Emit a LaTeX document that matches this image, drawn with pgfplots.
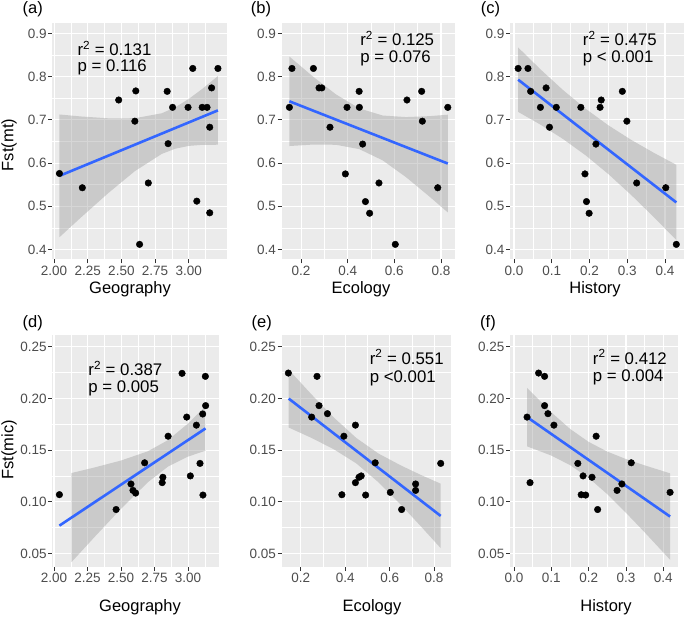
\documentclass[border=0pt]{standalone}
\usepackage{fontspec}
\setmainfont{Liberation Sans}
\usepackage{pgfplots}
\pgfplotsset{compat=1.18}

\definecolor{panelbg}{HTML}{EBEBEB}
\definecolor{ggblue}{HTML}{3366FF}
\definecolor{gray60}{HTML}{999999}
\definecolor{gray30}{HTML}{4D4D4D}
\definecolor{gray20}{HTML}{333333}

\tikzset{ann/.style={anchor=west, font=\fontsize{16.8}{19}\selectfont, inner sep=0pt}}

\pgfplotsset{
  gg/.style={
    scale only axis, anchor=south west,
    axis background/.style={fill=panelbg},
    axis line style={draw=none},
    grid=both,
    major grid style={draw=white, line width=1.1pt},
    minor grid style={draw=white, line width=0.55pt},
    major tick length=4pt, minor tick length=0pt,
    tick align=outside, xtick pos=left, ytick pos=left,
    major tick style={draw=gray20, line width=0.9pt},
    tick label style={font=\fontsize{13.5}{15}\selectfont, text=gray30},
    xticklabel style={inner sep=2pt},
    yticklabel style={inner sep=1.5pt},
  },
  toprow/.style={gg, width=174.4pt, height=236pt, ymin=0.377, ymax=0.923,
    ytick={0.4,0.5,0.6,0.7,0.8,0.9}, yticklabels={0.4,0.5,0.6,0.7,0.8,0.9},
    minor ytick={0.45,0.55,0.65,0.75,0.85}},
  botrow/.style={gg, height=232pt, ymin=0.037, ymax=0.2614,
    ytick={0.05,0.1,0.15,0.2,0.25}, yticklabels={0.05,0.10,0.15,0.20,0.25},
    minor ytick={0.075,0.125,0.175,0.225}},
  geo/.style={xtick={2,2.25,2.5,2.75,3}, xticklabels={2.00,2.25,2.50,2.75,3.00},
    minor xtick={2.125,2.375,2.625,2.875,3.125}},
  eco/.style={xtick={0.2,0.4,0.6,0.8}, xticklabels={0.2,0.4,0.6,0.8},
    minor xtick={0.3,0.5,0.7}},
  his/.style={xtick={0,0.1,0.2,0.3,0.4}, xticklabels={0.0,0.1,0.2,0.3,0.4},
    minor xtick={0.05,0.15,0.25,0.35,0.45}},
  pts/.style={only marks, mark=*, mark size=3.3pt, mark options={draw=none, fill=black}},
  fitline/.style={draw=ggblue, line width=2.6pt, mark=none},
  band/.style={fill=gray60, fill opacity=0.4, draw=none, mark=none},
}

\begin{document}
\begin{tikzpicture}
\path[use as bounding box] (0pt,0pt) rectangle (685pt,-617pt);

% (a)
\begin{axis}[toprow, geo, at={(52.3pt,-259.5pt)}, xmin=1.987, xmax=3.282]
\addplot[pts] coordinates {
 (2.04,0.576) (2.21,0.543) (2.48,0.746) (2.60,0.697) (2.607,0.767) (2.635,0.412)
 (2.70,0.554) (2.84,0.766) (2.847,0.645) (2.88,0.729) (2.995,0.729) (3.03,0.819)
 (3.06,0.512) (3.10,0.729) (3.136,0.729) (3.156,0.683) (3.156,0.485) (3.17,0.774)
 (3.217,0.819)};
\addplot[band] coordinates {
 (2.04,0.7125) (2.2,0.7079) (2.4,0.7037) (2.6,0.7038) (2.8,0.7153) (2.9,0.7291)
 (3.0,0.7484) (3.1,0.7715) (3.217,0.8015)
 (3.217,0.6425) (3.1,0.6423) (3.0,0.6398) (2.9,0.6333) (2.8,0.6213) (2.6,0.5814)
 (2.4,0.5299) (2.2,0.4743) (2.04,0.4285)} -- cycle;
\addplot[fitline] coordinates {(2.04,0.5705) (3.217,0.722)};
\node[ann] at (axis cs:2.173,0.865) {r\textsuperscript{2} = 0.131};
\node[ann] at (axis cs:2.173,0.822) {p = 0.116};
\end{axis}

% (b)
\begin{axis}[toprow, eco, at={(281.7pt,-259.5pt)}, width=173.3pt, xmin=0.117, xmax=0.86]
\addplot[pts] coordinates {
 (0.15,0.729) (0.161,0.819) (0.253,0.819) (0.277,0.774) (0.289,0.774) (0.324,0.683)
 (0.39,0.575) (0.397,0.729) (0.449,0.766) (0.45,0.729) (0.464,0.644) (0.476,0.511)
 (0.494,0.484) (0.534,0.554) (0.604,0.412) (0.654,0.746) (0.717,0.766) (0.72,0.697)
 (0.786,0.543) (0.829,0.729)};
\addplot[band] coordinates {
 (0.15,0.8465) (0.25,0.8007) (0.35,0.7588) (0.45,0.7265) (0.55,0.7101) (0.65,0.7065)
 (0.75,0.7086) (0.829,0.712)
 (0.829,0.486) (0.75,0.5228) (0.65,0.5675) (0.55,0.6063) (0.45,0.6323) (0.35,0.6424)
 (0.25,0.6429) (0.15,0.6395)} -- cycle;
\addplot[fitline] coordinates {(0.15,0.743) (0.829,0.599)};
\node[ann] at (axis cs:0.453,0.888) {r\textsuperscript{2} = 0.125};
\node[ann] at (axis cs:0.453,0.842) {p = 0.076};
\end{axis}

% (c)
\begin{axis}[toprow, his, at={(510pt,-259.5pt)}, width=175pt, xmin=-0.0106, xmax=0.453]
\addplot[pts] coordinates {
 (0.011,0.819) (0.037,0.819) (0.044,0.766) (0.07,0.729) (0.085,0.774) (0.094,0.683)
 (0.112,0.729) (0.177,0.729) (0.188,0.575) (0.192,0.511) (0.199,0.484) (0.217,0.644)
 (0.228,0.729) (0.231,0.746) (0.287,0.766) (0.299,0.697) (0.325,0.554) (0.402,0.543)
 (0.43,0.412)};
\addplot[band] coordinates {
 (0.011,0.8675) (0.07,0.817) (0.13,0.7689) (0.19,0.7256) (0.25,0.6874) (0.31,0.654)
 (0.37,0.624) (0.43,0.596)
 (0.43,0.422) (0.37,0.4754) (0.31,0.5266) (0.25,0.5746) (0.19,0.6178) (0.13,0.6557)
 (0.07,0.689) (0.011,0.7185)} -- cycle;
\addplot[fitline] coordinates {(0.011,0.793) (0.43,0.509)};
\node[ann] at (axis cs:0.182,0.888) {r\textsuperscript{2} = 0.475};
\node[ann] at (axis cs:0.182,0.842) {p < 0.001};
\end{axis}

% (d)
\begin{axis}[botrow, geo, at={(52.3pt,-567pt)}, width=167pt, xmin=1.987, xmax=3.233]
\addplot[pts] coordinates {
 (2.04,0.107) (2.463,0.0926) (2.574,0.1173) (2.589,0.1111) (2.609,0.1085) (2.676,0.1378)
 (2.807,0.1186) (2.812,0.1238) (2.851,0.1635) (2.955,0.2243) (2.99,0.182) (3.017,0.1251)
 (3.062,0.1742) (3.089,0.1372) (3.109,0.185) (3.111,0.1066) (3.129,0.2214) (3.131,0.1931)};
\addplot[band] coordinates {
 (2.13,0.1279) (2.3,0.1332) (2.5,0.14) (2.7,0.1489) (2.85,0.1597) (3.0,0.1758) (3.13,0.1925)
 (3.13,0.1495) (3.0,0.1438) (2.85,0.1341) (2.7,0.119) (2.5,0.0934) (2.3,0.0657) (2.13,0.0417)} -- cycle;
\addplot[fitline] coordinates {(2.04,0.077) (3.13,0.171)};
\node[ann] at (axis cs:2.255,0.2289) {r\textsuperscript{2} = 0.387};
\node[ann] at (axis cs:2.255,0.2093) {p = 0.005};
\end{axis}

% (e)
\begin{axis}[botrow, eco, at={(281.7pt,-567pt)}, width=169pt, xmin=0.114, xmax=0.875]
\addplot[pts] coordinates {
 (0.144,0.2246) (0.249,0.182) (0.273,0.2214) (0.282,0.1931) (0.32,0.1853) (0.385,0.1069)
 (0.394,0.1635) (0.446,0.1742) (0.446,0.1186) (0.462,0.1238) (0.472,0.1251) (0.492,0.1066)
 (0.535,0.1378) (0.603,0.1092) (0.654,0.0926) (0.717,0.1173) (0.717,0.1111) (0.83,0.1372)};
\addplot[band] coordinates {
 (0.1455,0.2279) (0.25,0.2035) (0.35,0.1813) (0.45,0.1618) (0.55,0.1467) (0.65,0.1353)
 (0.74,0.1261) (0.83,0.1176)
 (0.83,0.0552) (0.74,0.0765) (0.65,0.0973) (0.55,0.1189) (0.45,0.1372) (0.35,0.1507)
 (0.25,0.1617) (0.1455,0.1719)} -- cycle;
\addplot[fitline] coordinates {(0.1455,0.1999) (0.83,0.0864)};
\node[ann] at (axis cs:0.51,0.2402) {r\textsuperscript{2} = 0.551};
\node[ann] at (axis cs:0.51,0.2191) {p <0.001};
\end{axis}

% (f)
\begin{axis}[botrow, his, at={(510pt,-567pt)}, width=168.3pt, xmin=-0.0106, xmax=0.44]
\addplot[pts] coordinates {
 (0.035,0.182) (0.043,0.1186) (0.066,0.2246) (0.082,0.2214) (0.082,0.1931) (0.091,0.1853)
 (0.107,0.1742) (0.171,0.1372) (0.18,0.1069) (0.185,0.1251) (0.192,0.1066) (0.209,0.1238)
 (0.22,0.1635) (0.224,0.0926) (0.276,0.1111) (0.289,0.1173) (0.314,0.1378) (0.418,0.1092)};
\addplot[band] coordinates {
 (0.035,0.2103) (0.1,0.1866) (0.15,0.1706) (0.2,0.158) (0.25,0.1486) (0.3,0.1414)
 (0.35,0.1353) (0.418,0.1276)
 (0.418,0.044) (0.35,0.0705) (0.3,0.0894) (0.25,0.1074) (0.2,0.1232) (0.15,0.1356)
 (0.1,0.1448) (0.035,0.1537)} -- cycle;
\addplot[fitline] coordinates {(0.035,0.182) (0.418,0.0858)};
\node[ann] at (axis cs:0.211,0.2402) {r\textsuperscript{2} = 0.412};
\node[ann] at (axis cs:0.211,0.22) {p = 0.004};
\end{axis}

% panel tags and axis titles
\begin{scope}[every node/.style={font=\fontsize{16.5}{19}\selectfont, inner sep=0pt}]
\node at (32.7pt,-9pt) {(a)};
\node at (261pt,-9pt) {(b)};
\node at (490.5pt,-9pt) {(c)};
\node at (32.7pt,-323pt) {(d)};
\node at (261.7pt,-323pt) {(e)};
\node at (488pt,-323pt) {(f)};
\node at (130pt,-289pt) {Geography};
\node at (361pt,-289pt) {Ecology};
\node at (595pt,-289pt) {History};
\node at (140pt,-607pt) {Geography};
\node at (372pt,-607pt) {Ecology};
\node at (606pt,-607pt) {History};
\node[rotate=90] at (9pt,-145pt) {Fst(mt)};
\node[rotate=90] at (9pt,-450pt) {Fst(mic)};
\end{scope}
\end{tikzpicture}
\end{document}
